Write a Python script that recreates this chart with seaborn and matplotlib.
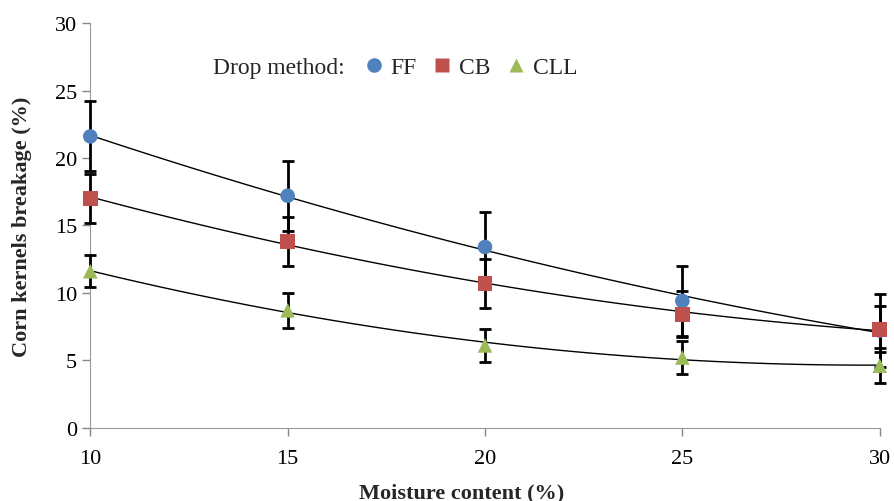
import numpy as np
import pandas as pd
import seaborn as sns
from matplotlib import pyplot as plt

moisture = [10, 15, 20, 25, 30]
methods = ["FF", "CB", "CLL"]
ff_mean = [21.6, 17.2, 13.4, 9.4, 7.2]
ff_err = [2.6, 2.6, 2.6, 2.6, 2.7]
cb_mean = [17.0, 13.8, 10.7, 8.4, 7.3]
cb_err = [1.8, 1.8, 1.8, 1.7, 1.7]
cll_mean = [11.6, 8.7, 6.1, 5.2, 4.6]
cll_err = [1.2, 1.3, 1.2, 1.2, 1.3]

colors = {"FF": "#4F81BD", "CB": "#C0504D", "CLL": "#9BBB59"}
markers = {"FF": "o", "CB": "s", "CLL": "^"}

df = pd.DataFrame({
    "moisture": moisture * 3,
    "breakage": ff_mean + cb_mean + cll_mean,
    "err": ff_err + cb_err + cll_err,
    "method": [m for m in methods for _ in moisture],
})

sns.set_style("ticks")
plt.rcParams["font.family"] = ["Liberation Serif", "DejaVu Serif"]

fig, ax = plt.subplots(figsize=(8.94, 5.02), dpi=100)
fig.subplots_adjust(left=0.101, right=0.984, top=0.952, bottom=0.146)

# trend lines (2nd order polynomial fits)
xs = np.linspace(10, 30, 100)
for m in methods:
    sub = df[df["method"] == m]
    coef = np.polyfit(sub["moisture"], sub["breakage"], 2)
    sns.lineplot(x=xs, y=np.polyval(coef, xs), color="black", linewidth=1.0, ax=ax, zorder=2)

for m in methods:
    sub = df[df["method"] == m]
    eb = ax.errorbar(sub["moisture"], sub["breakage"], yerr=sub["err"], fmt="none",
                     ecolor="black", elinewidth=2, capsize=4, capthick=2, zorder=3)
    for art in eb.lines[1] + eb.lines[2]:
        art.set_clip_on(False)

sns.scatterplot(data=df, x="moisture", y="breakage", hue="method", style="method",
                palette=colors, markers=markers, s=110, edgecolor="none", ax=ax, zorder=4)
for coll in ax.collections:
    coll.set_clip_on(False)

ax.set_xlim(10, 30)
ax.set_ylim(0, 30)
ax.set_xticks([10, 15, 20, 25, 30])
ax.set_yticks([0, 5, 10, 15, 20, 25, 30])
ax.tick_params(axis="both", colors="#888888", labelcolor="black", labelsize=16, length=6, width=1)
ax.tick_params(axis="x", pad=9)
for side in ["left", "bottom"]:
    ax.spines[side].set_color("#999999")
sns.despine(ax=ax)
ax.set_xlabel("Moisture content (%)", fontsize=16, fontweight="bold")
ax.set_ylabel("Corn kernels breakage (%)", fontsize=16, fontweight="bold")
ax.xaxis.set_label_coords(0.47, -0.16)
ax.xaxis.label.set_va("center")
ax.yaxis.set_label_coords(-0.074, 0.5)

handles, labels = ax.get_legend_handles_labels()
ax.legend(handles, labels, loc="center left", bbox_to_anchor=(0.344, 0.891), ncol=3,
          frameon=False, fontsize=17, handlelength=1.0, handletextpad=0.2,
          columnspacing=0.6, borderaxespad=0, borderpad=0)
ax.text(0.156, 0.891, "Drop method:", transform=ax.transAxes, fontsize=17,
        va="center", ha="left")

fig.savefig("out.png", dpi=100)
